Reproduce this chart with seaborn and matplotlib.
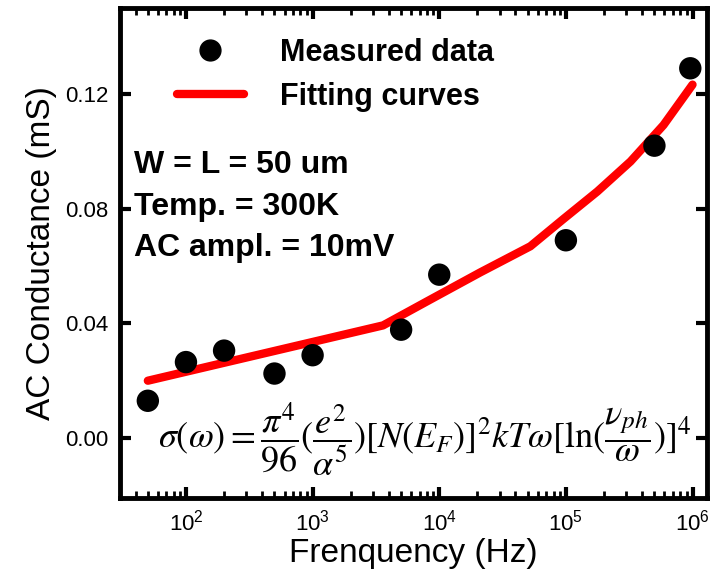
import numpy as np
import pandas as pd
import matplotlib
matplotlib.use("Agg")
import matplotlib.pyplot as plt
import seaborn as sns
from matplotlib.lines import Line2D
from matplotlib.ticker import LogLocator, NullFormatter

freq = [50, 100, 200, 500, 1000, 5000, 1e4, 1e5, 5e5, 9.6e5]
cond = [0.013, 0.0265, 0.0305, 0.0225, 0.0289, 0.0378, 0.057, 0.069, 0.102, 0.129]

# fitting curve points
fit_freq = [50, 3600, 8490, 21100, 52400, 95500, 177000, 324000, 590000, 1e6]
fit_cond = [0.020, 0.0393, 0.0483, 0.0578, 0.0669, 0.0764, 0.0860, 0.0965, 0.1092, 0.1233]

df = pd.DataFrame({"f": freq, "g": cond})
fit = pd.DataFrame({"f": fit_freq, "g": fit_cond})

sns.set_style("ticks")
plt.rcParams['font.family'] = ['Liberation Sans', 'DejaVu Sans']
plt.rcParams['mathtext.fontset'] = 'custom'
plt.rcParams['mathtext.rm'] = 'Liberation Sans'
plt.rcParams['mathtext.it'] = 'Liberation Sans:italic'
plt.rcParams['text.color'] = 'black'
plt.rcParams['axes.labelcolor'] = 'black'
plt.rcParams['xtick.color'] = 'black'
plt.rcParams['ytick.color'] = 'black'

fig = plt.figure(figsize=(7.17, 5.78), dpi=100)
ax = fig.add_axes([0.167, 0.138, 0.819, 0.848])

sns.lineplot(data=fit, x="f", y="g", color="#ff0000", lw=6, ax=ax, sort=False)
sns.scatterplot(data=df, x="f", y="g", color="black", s=260, edgecolor="none", ax=ax, zorder=3)

ax.set_xscale("log")
ax.set_xlim(30, 1.3e6)
ax.set_ylim(-0.021, 0.150)
ax.set_yticks([0.00, 0.04, 0.08, 0.12])
ax.set_yticklabels(["0.00", "0.04", "0.08", "0.12"])
ax.xaxis.set_major_locator(LogLocator(base=10, numticks=10))
ax.xaxis.set_minor_locator(LogLocator(base=10, subs=np.arange(2, 10), numticks=20))
ax.xaxis.set_minor_formatter(NullFormatter())

for s in ax.spines.values():
    s.set_linewidth(3.5)
    s.set_color("black")
ax.tick_params(which="major", direction="in", length=8, width=3, top=True, right=True,
               labelsize=16, pad=8)
ax.tick_params(axis="x", which="minor", direction="in", length=5, width=2, top=True)

ax.set_xlabel("Frenquency (Hz)", fontsize=24, labelpad=2)
ax.set_ylabel("AC Conductance (mS)", fontsize=24, labelpad=6)

handles = [Line2D([], [], marker="o", color="black", ls="none", markersize=15),
           Line2D([], [], color="#ff0000", lw=6)]
leg = ax.legend(handles, ["Measured data", "Fitting curves"], loc="upper left",
                bbox_to_anchor=(0.05, 0.995), frameon=False, handlelength=2.2,
                handletextpad=1.2, labelspacing=0.45,
                prop={"family": "Liberation Sans", "weight": "bold", "size": 22})

ax.text(0.025, 0.71, "W = L = 50 um\nTemp. = 300K\nAC ampl. = 10mV", transform=ax.transAxes,
        fontsize=23, fontweight="bold", va="top", ha="left", linespacing=1.5)

ax.text(0.52, 0.12,
        r"$\sigma(\omega)=\dfrac{\pi^4}{96}(\dfrac{e^2}{\alpha^5})[N(E_F)]^2kT\omega[\ln(\dfrac{\nu_{ph}}{\omega})]^4$",
        transform=ax.transAxes, fontsize=26, ha="center", va="center", math_fontfamily="stix")

fig.savefig("out.png", dpi=100)
